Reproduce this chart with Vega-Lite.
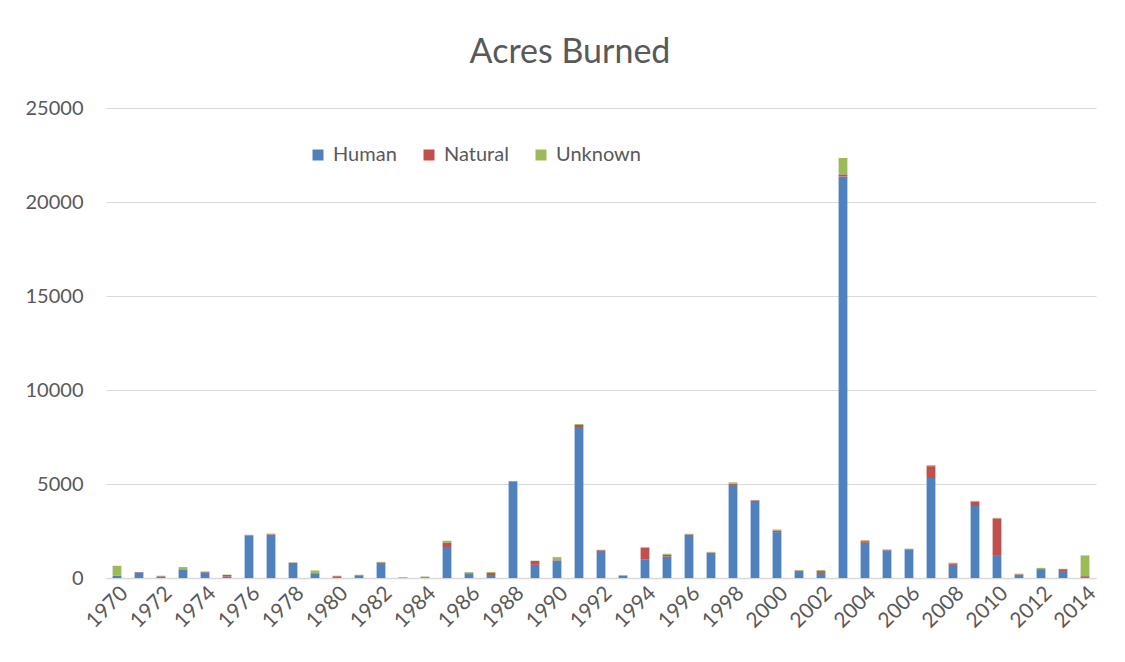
{
  "$schema": "https://vega.github.io/schema/vega-lite/v6.json",
  "width": 990,
  "height": 470,
  "autosize": {"type": "none"},
  "padding": {"left": 106, "top": 108, "right": 29, "bottom": 84},
  "background": "white",
  "title": {
    "text": "Acres Burned",
    "font": "Lato",
    "fontSize": 34,
    "fontWeight": "normal",
    "color": "#595959",
    "anchor": "middle",
    "dx": -31,
    "offset": 28
  },
  "data": {
    "values": [
      {"year": 1970, "Human": 120, "Natural": 0, "Unknown": 530},
      {"year": 1971, "Human": 300, "Natural": 20, "Unknown": 0},
      {"year": 1972, "Human": 80, "Natural": 20, "Unknown": 20},
      {"year": 1973, "Human": 450, "Natural": 20, "Unknown": 110},
      {"year": 1974, "Human": 300, "Natural": 30, "Unknown": 20},
      {"year": 1975, "Human": 80, "Natural": 80, "Unknown": 20},
      {"year": 1976, "Human": 2250, "Natural": 30, "Unknown": 20},
      {"year": 1977, "Human": 2300, "Natural": 30, "Unknown": 30},
      {"year": 1978, "Human": 800, "Natural": 20, "Unknown": 10},
      {"year": 1979, "Human": 240, "Natural": 30, "Unknown": 130},
      {"year": 1980, "Human": 60, "Natural": 40, "Unknown": 20},
      {"year": 1981, "Human": 140, "Natural": 10, "Unknown": 20},
      {"year": 1982, "Human": 800, "Natural": 30, "Unknown": 30},
      {"year": 1983, "Human": 20, "Natural": 0, "Unknown": 30},
      {"year": 1984, "Human": 20, "Natural": 40, "Unknown": 20},
      {"year": 1985, "Human": 1650, "Natural": 240, "Unknown": 90},
      {"year": 1986, "Human": 240, "Natural": 40, "Unknown": 40},
      {"year": 1987, "Human": 160, "Natural": 110, "Unknown": 50},
      {"year": 1988, "Human": 5120, "Natural": 30, "Unknown": 10},
      {"year": 1989, "Human": 700, "Natural": 210, "Unknown": 10},
      {"year": 1990, "Human": 930, "Natural": 20, "Unknown": 160},
      {"year": 1991, "Human": 8030, "Natural": 110, "Unknown": 50},
      {"year": 1992, "Human": 1440, "Natural": 40, "Unknown": 20},
      {"year": 1993, "Human": 110, "Natural": 20, "Unknown": 30},
      {"year": 1994, "Human": 1000, "Natural": 600, "Unknown": 40},
      {"year": 1995, "Human": 1140, "Natural": 100, "Unknown": 50},
      {"year": 1996, "Human": 2290, "Natural": 30, "Unknown": 30},
      {"year": 1997, "Human": 1340, "Natural": 20, "Unknown": 30},
      {"year": 1998, "Human": 4950, "Natural": 70, "Unknown": 70},
      {"year": 1999, "Human": 4110, "Natural": 30, "Unknown": 10},
      {"year": 2000, "Human": 2440, "Natural": 90, "Unknown": 50},
      {"year": 2001, "Human": 370, "Natural": 30, "Unknown": 20},
      {"year": 2002, "Human": 270, "Natural": 100, "Unknown": 50},
      {"year": 2003, "Human": 21360, "Natural": 110, "Unknown": 870},
      {"year": 2004, "Human": 1870, "Natural": 90, "Unknown": 50},
      {"year": 2005, "Human": 1470, "Natural": 30, "Unknown": 20},
      {"year": 2006, "Human": 1520, "Natural": 20, "Unknown": 20},
      {"year": 2007, "Human": 5320, "Natural": 630, "Unknown": 50},
      {"year": 2008, "Human": 700, "Natural": 80, "Unknown": 30},
      {"year": 2009, "Human": 3830, "Natural": 240, "Unknown": 30},
      {"year": 2010, "Human": 1220, "Natural": 1950, "Unknown": 30},
      {"year": 2011, "Human": 180, "Natural": 20, "Unknown": 30},
      {"year": 2012, "Human": 470, "Natural": 10, "Unknown": 60},
      {"year": 2013, "Human": 370, "Natural": 100, "Unknown": 20},
      {"year": 2014, "Human": 70, "Natural": 70, "Unknown": 1060}
    ]
  },
  "transform": [
    {"fold": ["Human", "Natural", "Unknown"], "as": ["cause", "acres"]}
  ],
  "mark": {"type": "bar"},
  "encoding": {
    "x": {
      "field": "year",
      "type": "ordinal",
      "scale": {"paddingInner": 0.6, "paddingOuter": 0.3},
      "axis": {
        "title": null,
        "values": [1970, 1972, 1974, 1976, 1978, 1980, 1982, 1984, 1986, 1988, 1990, 1992, 1994, 1996, 1998, 2000, 2002, 2004, 2006, 2008, 2010, 2012, 2014],
        "labelAngle": -45,
        "labelFont": "Lato",
        "labelFontSize": 21,
        "labelColor": "#595959",
        "labelPadding": 4,
        "ticks": false,
        "domainColor": "#d9d9d9",
        "domainWidth": 1.5,
        "grid": false
      }
    },
    "y": {
      "field": "acres",
      "type": "quantitative",
      "stack": "zero",
      "scale": {"domain": [0, 25000], "nice": false},
      "axis": {
        "title": null,
        "values": [0, 5000, 10000, 15000, 20000, 25000],
        "format": "d",
        "labelFont": "Lato",
        "labelFontSize": 20,
        "labelColor": "#595959",
        "labelPadding": 23,
        "ticks": false,
        "domain": false,
        "gridColor": "#d9d9d9",
        "gridWidth": 1
      }
    },
    "color": {
      "field": "cause",
      "type": "nominal",
      "scale": {"domain": ["Human", "Natural", "Unknown"], "range": ["#4F81BD", "#C0504D", "#9BBB59"]},
      "legend": {
        "title": null,
        "orient": "none",
        "legendX": 202,
        "legendY": 37,
        "direction": "horizontal",
        "symbolType": "square",
        "symbolSize": 121,
        "symbolStrokeWidth": 0,
        "labelFont": "Lato",
        "labelFontSize": 20,
        "labelColor": "#595959",
        "labelOffset": 5,
        "columnPadding": 22
      }
    },
    "order": {"field": "cause", "sort": "ascending"}
  },
  "config": {"view": {"stroke": null}}
}
